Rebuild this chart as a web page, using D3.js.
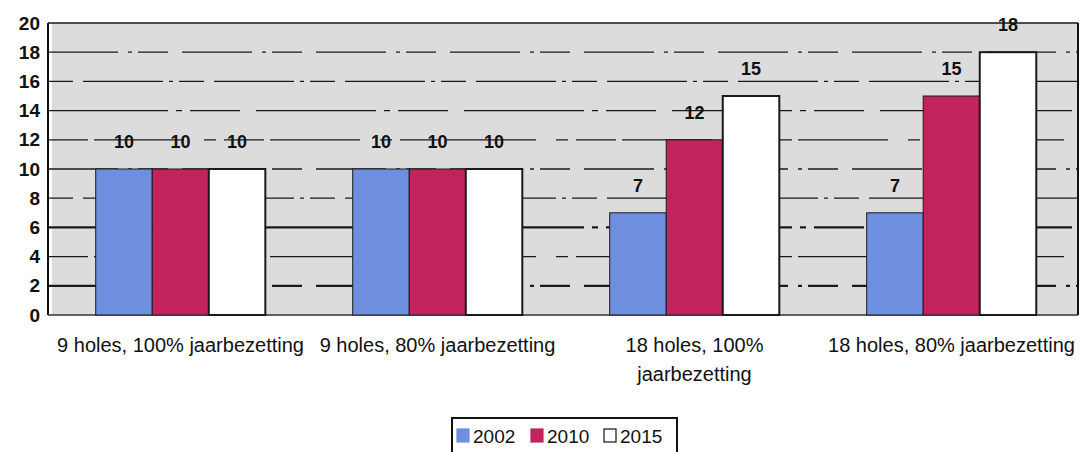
<!DOCTYPE html>
<html><head><meta charset="utf-8">
<script src="https://cdn.jsdelivr.net/npm/d3@7"></script>
<style>
html,body{margin:0;padding:0;background:#fff;}
svg{display:block;font-family:"Liberation Sans",Arial,sans-serif;}
</style></head>
<body>
<svg id="chart" width="1081" height="452"></svg>
<script>
const categories = ["9 holes, 100% jaarbezetting","9 holes, 80% jaarbezetting","18 holes, 100% jaarbezetting","18 holes, 80% jaarbezetting"];
const categoryLines = [["9 holes, 100% jaarbezetting"],["9 holes, 80% jaarbezetting"],["18 holes, 100%","jaarbezetting"],["18 holes, 80% jaarbezetting"]];
const seriesNames = ["2002","2010","2015"];
const values2002 = [10,10,7,7];
const values2010 = [10,10,12,15];
const values2015 = [10,10,15,18];
const yTicks = [0,2,4,6,8,10,12,14,16,18,20];
const colors = ["#6e8ee0","#c3235c","#ffffff"];

const svg = d3.select("#chart");
const pLeft = 48, pRight = 1078, pTop = 23, pBottom = 315;
const x0 = d3.scaleBand().domain(categories).range([51, 1081]).paddingInner(0.34).paddingOuter(0.174);
const x1 = d3.scaleBand().domain(seriesNames).range([0, x0.bandwidth()]).padding(0);
const y = d3.scaleLinear().domain([0,20]).range([pBottom, pTop]);

// plot background
svg.append("rect").attr("x", pLeft+4).attr("y", pTop).attr("width", pRight-pLeft-4).attr("height", pBottom-pTop).attr("fill","#dcdcdc");

// gridlines
const grid = svg.append("g").attr("class","grid");
grid.selectAll("line").data(yTicks.filter(d=>d>0)).join("line")
  .attr("x1", pLeft).attr("x2", pRight)
  .attr("y1", d=>y(d)).attr("y2", d=>y(d))
  .attr("stroke", "#1a1a1a")
  .attr("stroke-width", d => (d===2||d===6) ? 2.2 : 1.3)
  .attr("stroke-dasharray", (d,i) => d===20 ? null : ["70,10,4,6,30,14","40,6,90,20,12,8","120,8,6,8,50,16","25,10,80,6,4,6"][i%4]);

// axes lines
svg.append("line").attr("x1",pLeft).attr("x2",pLeft).attr("y1",pTop).attr("y2",pBottom).attr("stroke","#111").attr("stroke-width",2);
svg.append("line").attr("x1",pRight).attr("x2",pRight).attr("y1",pTop).attr("y2",pBottom).attr("stroke","#111").attr("stroke-width",2);
svg.append("line").attr("x1",pLeft).attr("x2",pRight).attr("y1",pBottom).attr("y2",pBottom).attr("stroke","#333").attr("stroke-width",1.5);

// y axis labels
const yAxis = d3.axisLeft(y).tickValues(yTicks).tickSize(0).tickPadding(8);
const ga = svg.append("g").attr("transform",`translate(${pLeft},0)`).call(yAxis);
ga.select(".domain").remove();
ga.selectAll("text").attr("font-size",19).attr("font-weight","bold").attr("fill","#111").attr("font-family","'Liberation Sans',Arial,sans-serif");

// bars
const series = [values2002, values2010, values2015];
const groups = svg.append("g").selectAll("g").data(categories).join("g")
  .attr("transform", d=>`translate(${x0(d)},0)`);
groups.each(function(cat, ci){
  const g = d3.select(this);
  seriesNames.forEach((s, si) => {
    const v = series[si][ci];
    g.append("rect")
      .attr("x", x1(s)).attr("width", x1.bandwidth())
      .attr("y", y(v)).attr("height", y(0)-y(v))
      .attr("fill", colors[si])
      .attr("stroke", "#1a1a1a").attr("stroke-width", si===2 ? 2 : 1);
    g.append("text")
      .attr("x", x1(s) + x1.bandwidth()/2)
      .attr("y", y(v) - 21)
      .attr("text-anchor","middle")
      .attr("font-size",18).attr("font-weight","bold").attr("fill","#111")
      .text(v);
  });
});

// x labels
const xl = svg.append("g");
categories.forEach((c, i) => {
  const cx = x0(c) + x0.bandwidth()/2;
  const t = xl.append("text")
    .attr("x", cx)
    .attr("y", 352)
    .attr("text-anchor","middle")
    .attr("font-size",20).attr("fill","#111");
  categoryLines[i].forEach((ln, li) => {
    t.append("tspan").attr("x", cx).attr("dy", li===0 ? 0 : 29).text(ln);
  });
});

// legend
const lg = svg.append("g");
lg.append("rect").attr("x",452).attr("y",418).attr("width",225).attr("height",40)
  .attr("fill","#fff").attr("stroke","#111").attr("stroke-width",2);
const legX = [457, 531, 604];
seriesNames.forEach((s, i) => {
  lg.append("rect").attr("x", legX[i]).attr("y", 429).attr("width", 12).attr("height", 13)
    .attr("fill", colors[i]).attr("stroke", i===2 ? "#111" : colors[i]).attr("stroke-width", 1.2);
  lg.append("text").attr("x", legX[i] + 16).attr("y", 443).attr("font-size",19).attr("fill","#111").text(s);
});
</script>
</body></html>
